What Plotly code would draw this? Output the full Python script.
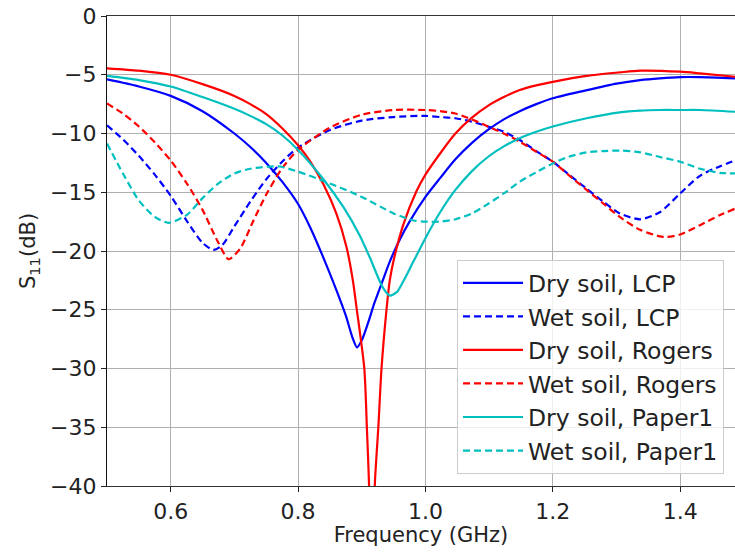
import plotly.graph_objects as go

# Frequency (GHz) / S11 (dB) samples
f_dry_lcp = [0.5, 0.55, 0.6, 0.65, 0.7, 0.725, 0.75, 0.775, 0.8, 0.82, 0.84, 0.86, 0.875, 0.885, 0.8925, 0.9, 0.91, 0.92, 0.933, 0.944, 0.96, 0.975, 1.0, 1.023, 1.047, 1.073, 1.098, 1.123, 1.148, 1.174, 1.2, 1.25, 1.3, 1.337, 1.368, 1.4, 1.431, 1.486]
s_dry_lcp = [-5.4, -6.0, -6.8, -8.1, -10.0, -11.15, -12.5, -14.1, -16.0, -18.1, -20.6, -23.3, -25.5, -27.3, -28.2, -27.6, -26.1, -24.4, -22.5, -20.9, -19.0, -17.5, -15.4, -13.8, -12.2, -10.8, -9.7, -8.8, -8.1, -7.5, -7.0, -6.35, -5.75, -5.45, -5.3, -5.2, -5.2, -5.3]

f_wet_lcp = [0.5, 0.525, 0.55, 0.575, 0.6, 0.626, 0.65, 0.667, 0.681, 0.7, 0.725, 0.75, 0.775, 0.8, 0.85, 0.9, 0.95, 1.0, 1.023, 1.047, 1.073, 1.098, 1.123, 1.148, 1.174, 1.2, 1.224, 1.253, 1.279, 1.305, 1.337, 1.368, 1.4, 1.431, 1.462, 1.486]
s_wet_lcp = [-9.3, -10.5, -11.9, -13.5, -15.3, -17.5, -19.3, -19.9, -19.5, -17.9, -15.8, -13.9, -12.4, -11.2, -9.7, -8.9, -8.6, -8.5, -8.6, -8.7, -9.0, -9.4, -9.85, -10.55, -11.5, -12.4, -13.45, -14.7, -15.8, -16.8, -17.3, -16.7, -15.1, -13.6, -12.8, -12.3]

f_dry_rog = [0.5, 0.55, 0.6, 0.65, 0.7, 0.725, 0.75, 0.775, 0.8, 0.82, 0.84, 0.86, 0.876, 0.886, 0.892, 0.904, 0.908, 0.9115, 0.916, 0.9204, 0.926, 0.931, 0.939, 0.944, 0.95, 0.965, 0.986, 1.0, 1.023, 1.047, 1.073, 1.098, 1.123, 1.148, 1.174, 1.2, 1.253, 1.305, 1.337, 1.4, 1.431, 1.486]
s_dry_rog = [-4.45, -4.65, -5.0, -5.8, -6.8, -7.5, -8.35, -9.55, -11.0, -12.45, -14.35, -16.8, -19.65, -22.5, -24.9, -30.0, -35.0, -40.0, -52.0, -40.0, -35.0, -30.0, -24.9, -22.5, -20.8, -17.8, -14.9, -13.5, -11.7, -10.0, -8.65, -7.65, -6.9, -6.3, -5.9, -5.6, -5.1, -4.8, -4.65, -4.74, -4.88, -5.17]

f_wet_rog = [0.5, 0.525, 0.55, 0.575, 0.6, 0.626, 0.65, 0.673, 0.691, 0.709, 0.73, 0.75, 0.775, 0.8, 0.85, 0.9, 0.95, 1.0, 1.023, 1.047, 1.073, 1.098, 1.123, 1.148, 1.174, 1.2, 1.224, 1.253, 1.279, 1.305, 1.337, 1.368, 1.379, 1.4, 1.431, 1.462, 1.486]
s_wet_rog = [-7.45, -8.3, -9.4, -10.75, -12.3, -14.3, -16.5, -19.1, -20.7, -19.8, -17.4, -15.2, -12.95, -11.4, -9.5, -8.4, -8.0, -8.0, -8.1, -8.3, -8.8, -9.4, -10.0, -10.7, -11.55, -12.4, -13.5, -14.8, -15.95, -17.1, -18.2, -18.75, -18.8, -18.6, -17.8, -16.95, -16.4]

f_dry_pap = [0.5, 0.55, 0.6, 0.65, 0.7, 0.725, 0.75, 0.775, 0.8, 0.837, 0.871, 0.897, 0.913, 0.933, 0.944, 0.955, 0.965, 0.981, 1.002, 1.023, 1.047, 1.073, 1.098, 1.123, 1.148, 1.174, 1.2, 1.253, 1.305, 1.337, 1.368, 1.4, 1.431, 1.486]
s_dry_pap = [-5.1, -5.45, -6.0, -6.9, -7.9, -8.5, -9.2, -10.15, -11.4, -13.7, -16.25, -18.7, -20.6, -23.1, -23.8, -23.5, -22.6, -20.9, -18.7, -16.7, -14.8, -13.2, -12.0, -11.1, -10.4, -9.85, -9.4, -8.7, -8.2, -8.05, -8.0, -8.0, -8.0, -8.15]

f_wet_pap = [0.5, 0.525, 0.55, 0.575, 0.597, 0.626, 0.65, 0.675, 0.7, 0.725, 0.77, 0.8, 0.85, 0.9, 0.95, 0.981, 1.0, 1.023, 1.047, 1.073, 1.098, 1.123, 1.148, 1.174, 1.2, 1.224, 1.253, 1.279, 1.305, 1.337, 1.368, 1.4, 1.431, 1.462, 1.486]
s_wet_pap = [-10.85, -13.4, -15.7, -17.1, -17.6, -16.9, -15.5, -14.25, -13.4, -13.0, -12.8, -13.25, -14.25, -15.4, -16.8, -17.4, -17.5, -17.5, -17.3, -16.8, -16.0, -15.1, -14.1, -13.3, -12.55, -12.0, -11.6, -11.5, -11.45, -11.6, -12.0, -12.4, -13.0, -13.35, -13.4]

x_ticks = [0.6, 0.8, 1.0, 1.2, 1.4]
x_tick_text = ["0.6", "0.8", "1.0", "1.2", "1.4"]
y_ticks = [0, -5, -10, -15, -20, -25, -30, -35, -40]
y_tick_text = ["0", "−5", "−10", "−15", "−20", "−25", "−30", "−35", "−40"]

series = [
    ("Dry soil, LCP", f_dry_lcp, s_dry_lcp, "#0000ff", "solid"),
    ("Wet soil, LCP", f_wet_lcp, s_wet_lcp, "#0000ff", "dash"),
    ("Dry soil, Rogers", f_dry_rog, s_dry_rog, "#ff0000", "solid"),
    ("Wet soil, Rogers", f_wet_rog, s_wet_rog, "#ff0000", "dash"),
    ("Dry soil, Paper1", f_dry_pap, s_dry_pap, "#00bfbf", "solid"),
    ("Wet soil, Paper1", f_wet_pap, s_wet_pap, "#00bfbf", "dash"),
]

FONT = "DejaVu Sans"
fig = go.Figure()
for i, (name, xs, ys, col, dash) in enumerate(series):
    fig.add_trace(go.Scatter(
        x=xs, y=ys, name=name, mode="lines", legendgroup=f"g{i}",
        line=dict(color=col, width=2.2, dash="solid" if dash == "solid" else "7px,4px",
                  shape="spline", smoothing=0.7),
    ))

fig.update_layout(
    width=735, height=552,
    margin=dict(l=107, r=0, t=16, b=66),
    paper_bgcolor="white", plot_bgcolor="white",
    font=dict(family=FONT, size=21, color="#222222"),
    showlegend=True,
    legend=dict(
        x=0.9825, y=0.0255, xanchor="right", yanchor="bottom",
        bgcolor="rgba(255,255,255,0.8)", bordercolor="#cccccc", borderwidth=1,
        font=dict(family=FONT, size=23.5, color="#222222"),
        traceorder="grouped", tracegroupgap=0, itemwidth=60,
    ),
    xaxis=dict(
        range=[0.5, 1.486], tickvals=x_ticks, ticktext=x_tick_text,
        showgrid=True, gridcolor="#b0b0b0", gridwidth=1,
        showline=True, linecolor="#333333", linewidth=1.2, mirror=True,
        ticks="outside", ticklen=5, tickcolor="#222222",
        tickfont=dict(size=22), zeroline=False,
        title=dict(text="Frequency (GHz)", font=dict(size=21), standoff=4),
    ),
    yaxis=dict(
        range=[-40, 0], tickvals=y_ticks, ticktext=y_tick_text,
        showgrid=True, gridcolor="#b0b0b0", gridwidth=1,
        showline=True, linecolor="#111111", linewidth=1.2,
        ticks="outside", ticklen=5, tickcolor="#222222",
        tickfont=dict(size=22), zeroline=False,
        title=dict(text="S<sub>11</sub>(dB)", font=dict(size=21), standoff=8),
    ),
)
fig.write_html("out.html")
